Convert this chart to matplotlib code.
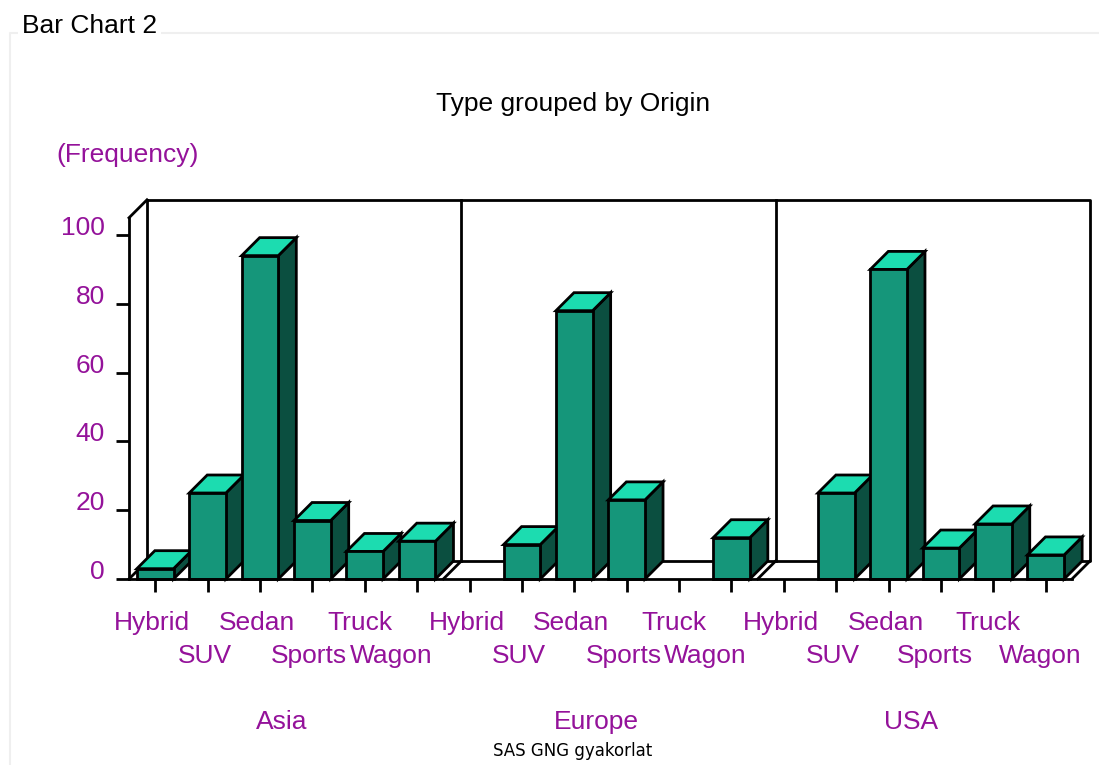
import matplotlib
matplotlib.use("Agg")
import matplotlib.pyplot as plt
from matplotlib.lines import Line2D
from matplotlib.patches import Polygon
from matplotlib.transforms import offset_copy

plt.rcParams["font.family"] = ["Liberation Sans", "DejaVu Sans"]

# Car counts by type within each origin
origins = ["Asia", "Europe", "USA"]
types = ["Hybrid", "SUV", "Sedan", "Sports", "Truck", "Wagon"]
asia = [3, 25, 94, 17, 8, 11]
europe = [0, 10, 78, 23, 0, 12]
usa = [0, 25, 90, 9, 16, 7]
y_ticks = [0, 20, 40, 60, 80, 100]

PURPLE = "#94129a"
FRONT = "#15967a"
SIDE = "#0b4f40"
TOP = "#1cdcb0"
DEPTH = 18  # pixels
LW = 2.0

W, H = 1099, 765
fig = plt.figure(figsize=(W / 100, H / 100), dpi=100)

# Light group box around the chart
fig.add_artist(Line2D([10 / W, 10 / W, 1], [0, 1 - 33 / H, 1 - 33 / H], color="#efefef", lw=1.5))
fig.text(22 / W, 1 - 26 / H, "Bar Chart 2", fontsize=19, color="black", va="center",
         bbox=dict(facecolor="white", edgecolor="none", pad=3))

left, right, bottom, top = 129, 1072, 579, 235
ax = fig.add_axes([left / W, 1 - bottom / H, (right - left) / W, (bottom - top) / H])
ax.set_xlim(-0.5, 17.5)
ax.set_ylim(0, 100)
ax.patch.set_visible(False)

dx = DEPTH * 18 / (right - left)
dy = DEPTH * 100 / (bottom - top)
x0, x1 = ax.get_xlim()
y_top = 105

line = dict(color="black", lw=LW, clip_on=False, solid_capstyle="projecting")

# Back wall, floor and panel separators
ax.plot([x0 + dx, x1 + dx, x1 + dx, x0 + dx, x0 + dx],
        [y_top + dy, y_top + dy, dy, dy, y_top + dy], zorder=1, **line)
ax.plot([x0, x0 + dx], [y_top, y_top + dy], zorder=1, **line)
ax.plot([x0, x0 + dx], [0, dy], zorder=1, **line)
ax.plot([x1, x1 + dx], [0, dy], zorder=1, **line)
for i in (6, 12):
    sep = i - 0.5
    ax.plot([sep + dx, sep + dx], [y_top + dy, dy], zorder=1, **line)
    ax.plot([sep, sep + dx], [0, dy], zorder=1, **line)

# Bars, left to right so that each front covers the previous side
width = 0.70
values = asia + europe + usa
z = 2
for i, v in enumerate(values):
    if v == 0:
        continue
    a, b = i - width / 2, i + width / 2
    style = dict(edgecolor="black", lw=LW, clip_on=False, joinstyle="miter")
    ax.add_patch(Polygon([(b, 0), (b + dx, dy), (b + dx, v + dy), (b, v)], facecolor=SIDE, zorder=z, **style))
    ax.add_patch(Polygon([(a, v), (a + dx, v + dy), (b + dx, v + dy), (b, v)], facecolor=TOP, zorder=z, **style))
    ax.bar(i, v, width=width, facecolor=FRONT, zorder=z + 1, **style)
    z += 2

# Axes and ticks
for name in ("top", "right"):
    ax.spines[name].set_visible(False)
ax.spines["left"].set_bounds(0, y_top)
for name in ("left", "bottom"):
    ax.spines[name].set_linewidth(LW)
    ax.spines[name].set_zorder(z)
ax.set_xticks(range(len(values)))
ax.set_yticks(y_ticks)
ax.set_xticklabels([])
ax.set_yticklabels([])
ax.tick_params(length=9.5, width=LW)


def shifted(px, py):
    return offset_copy(ax.transData, fig=fig, x=px, y=py, units="dots")


for t in y_ticks:
    ax.text(x0, t, str(t), transform=shifted(-24, 7), ha="right", va="center",
            fontsize=19, color=PURPLE)

# Staggered type labels; Wagon gets pushed left where it would hit Sports
for i, v in enumerate(values):
    name = types[i % 6]
    row = i % 6 % 2
    shift = -3
    if name == "Wagon" and i < 12:
        shift = -26
    elif name == "Wagon" or name == "Sports" and i > 12:
        shift = -6
    elif name == "Truck":
        shift = -5
    ax.text(i, 0, name, transform=shifted(shift, -44 - 33 * row), ha="center", va="center",
            fontsize=19, color=PURPLE)

for k, origin in enumerate(origins):
    ax.text(6 * k + 2.5, 0, origin, transform=shifted(-4, -143), ha="center", va="center",
            fontsize=19, color=PURPLE)

fig.text(573 / W, 1 - 104 / H, "Type grouped by Origin", fontsize=19, ha="center", va="center", color="black")
fig.text(128 / W, 1 - 155 / H, "(Frequency)", fontsize=19, ha="center", va="center", color=PURPLE)
fig.text(573 / W, 1 - 751 / H, "SAS GNG gyakorlat", fontsize=12, family="DejaVu Sans",
         ha="center", va="center", color="black")

fig.savefig("out.png", dpi=100)
